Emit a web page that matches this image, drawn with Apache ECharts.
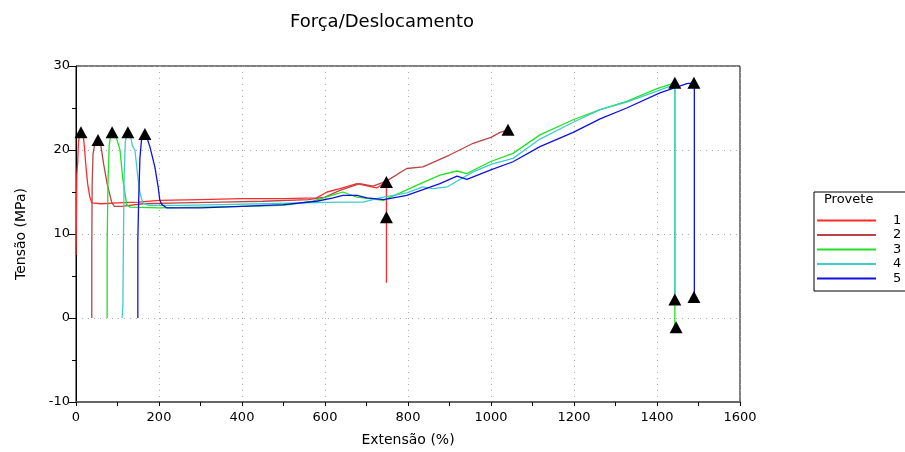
<!DOCTYPE html>
<html>

<head>
  <meta charset="utf-8">
  <title>Força/Deslocamento</title>
  <style>
    body {
      margin: 0;
      background: #fff;
    }

    #chart {
      width: 905px;
      height: 452px;
    }
  </style>
  <script src="https://cdn.jsdelivr.net/npm/echarts@6/dist/echarts.min.js"></script>
</head>

<body>
  <div id="chart"></div>

  <script>
    // provetes (legend names)
    var provetes = ['1', '2', '3', '4', '5'];

    // [extensão %, tensão MPa]
    var provete1 = [[0, 7.5], [1, 12], [2, 17], [4, 18.5], [6, 21], [10, 22], [17, 22], [20, 20.5], [24, 18], [28, 16],
      [33, 14.5], [38, 13.7], [60, 13.6], [100, 13.7], [150, 13.8], [200, 14], [300, 14.1], [400, 14.2],
      [500, 14.2], [580, 14.3], [605, 15], [636, 15.4], [677, 16], [704, 15.7], [725, 15.5], [748, 16.2], [748, 4.2]];
    var provete2 = [[38, 0], [38, 8], [39, 16], [41, 19.5], [46, 21], [53, 21.4], [60, 20.5], [66, 18.5], [75, 16],
      [86, 13.8], [92, 13.3], [110, 13.3], [161, 13.6], [250, 13.7], [350, 13.8], [450, 13.9], [560, 14.1],
      [600, 14.4], [636, 15.2], [684, 16], [716, 15.7], [748, 16.3], [797, 17.8], [836, 18], [900, 19.4],
      [957, 20.8], [1000, 21.5], [1022, 22.1], [1041, 22.4]];
    var provete3 = [[75, 0], [75, 8.5], [77, 16], [80, 20.5], [84, 22], [90, 22.1], [97, 21.5], [106, 20],
      [113, 16.4], [118, 14.9], [122, 13.5], [130, 13.2], [200, 13.1], [300, 13.2], [400, 13.3], [500, 13.4],
      [571, 13.9], [610, 14.5], [643, 15], [677, 14.4], [740, 14], [781, 14.9], [830, 16], [877, 17],
      [918, 17.5], [942, 17.2], [998, 18.6], [1053, 19.6], [1118, 21.8], [1198, 23.6], [1263, 24.8],
      [1327, 25.8], [1400, 27.3], [1443, 28], [1443, -1.1]];
    var provete4 = [[111, 0], [113, 1.5], [114, 8], [116, 17], [119, 21], [123, 22.1], [130, 22], [136, 20.5],
      [142, 20], [149, 16.8], [154, 14.9], [161, 13.7], [175, 13.4], [250, 13.4], [350, 13.5], [450, 13.6],
      [550, 13.7], [636, 13.8], [692, 13.8], [732, 14.3], [797, 14.9], [836, 15.6], [860, 15.4], [894, 15.6],
      [957, 17.4], [1000, 18.3], [1053, 19], [1118, 21.3], [1198, 23.3], [1263, 24.8], [1327, 25.7],
      [1400, 27], [1443, 27.8], [1443, 2.1]];
    var provete5 = [[149, 0], [149, 9.3], [151, 14], [154, 19], [158, 21.3], [163, 22], [170, 21.6], [178, 20.4],
      [190, 18], [198, 15.6], [202, 14], [207, 13.5], [219, 13.1], [300, 13.1], [400, 13.3], [500, 13.5],
      [580, 13.9], [620, 14.3], [643, 14.6], [677, 14.6], [701, 14.3], [742, 14.1], [797, 14.6], [877, 16],
      [918, 16.9], [942, 16.5], [998, 17.6], [1053, 18.6], [1118, 20.4], [1198, 22.1], [1263, 23.7],
      [1327, 25], [1407, 26.8], [1472, 27.9], [1490, 28], [1490, 2.4]];

    // black triangle markers (peaks and breaks)
    var marcas = [[12, 22.1], [53, 21.2], [87, 22.1], [125, 22.1], [166, 21.9], [748, 16.2], [748, 12.0],
      [1041, 22.4], [1443, 28.0], [1443, 2.2], [1446, -1.1], [1489, 28.0], [1489, 2.5]];

    var cores = ['#ff2a2a', '#b84545', '#22e022', '#40cccc', '#1010e0'];
    var dados = [provete1, provete2, provete3, provete4, provete5];

    var fonte = "'DejaVu Sans', sans-serif";

    var series = provetes.map(function (nome, i) {
      return {
        name: nome,
        type: 'line',
        data: dados[i],
        showSymbol: false,
        symbol: 'none',
        lineStyle: { color: cores[i], width: 1.3 },
        itemStyle: { color: cores[i] },
        z: 2
      };
    });
    series.push({
      name: 'marcas',
      type: 'scatter',
      data: marcas,
      symbol: 'triangle',
      symbolSize: [13, 12],
      itemStyle: { color: '#000', opacity: 1 },
      z: 5
    });

    var myChart = echarts.init(document.getElementById('chart'));

    var option = {
      animation: false,
      backgroundColor: '#fff',
      title: [{
        text: 'Força/Deslocamento',
        left: 377,
        top: 8,
        textAlign: 'center',
        textStyle: { fontFamily: fonte, fontSize: 18, fontWeight: 'normal', color: '#000' }
      }, {
        text: 'Provete',
        left: 824,
        top: 193,
        padding: 0,
        textStyle: { fontFamily: fonte, fontSize: 13, fontWeight: 'normal', color: '#000' }
      }],
      legend: {
        data: provetes,
        orient: 'vertical',
        left: 814,
        top: 192,
        padding: [22, 30, 6, 3],
        borderColor: '#000',
        borderWidth: 1,
        itemWidth: 59,
        itemHeight: 2,
        itemGap: 1.5,
        icon: 'rect',
        textStyle: { fontFamily: fonte, fontSize: 13, color: '#000', padding: [0, 0, 0, 12] }
      },
      grid: {
        left: 76,
        right: 165,
        top: 66,
        bottom: 50,
        show: true,
        borderColor: '#000',
        borderWidth: 1
      },
      xAxis: {
        type: 'value',
        min: 0,
        max: 1600,
        interval: 200,
        name: 'Extensão (%)',
        nameLocation: 'middle',
        nameGap: 31,
        nameTextStyle: { fontFamily: fonte, fontSize: 14, color: '#000' },
        axisLine: { onZero: false, lineStyle: { color: '#666', width: 2 } },
        axisTick: { length: 4, lineStyle: { color: '#000' } },
        minorTick: { show: true, splitNumber: 2, length: 4, lineStyle: { color: '#000' } },
        axisLabel: {
          fontFamily: fonte, fontSize: 13, color: '#000', margin: 9,
          formatter: function (v) { return String(v); }
        },
        splitLine: {
          show: true,
          lineStyle: { color: '#aaa', type: [1, 5], width: 1 }
        }
      },
      yAxis: {
        type: 'value',
        min: -10,
        max: 30,
        interval: 10,
        name: 'Tensão (MPa)',
        nameLocation: 'middle',
        nameGap: 48,
        nameTextStyle: { fontFamily: fonte, fontSize: 14, color: '#000' },
        axisLine: { show: true, onZero: false, lineStyle: { color: '#000' } },
        axisTick: { show: true, length: 7, lineStyle: { color: '#000' } },
        minorTick: { show: true, splitNumber: 2, length: 4, lineStyle: { color: '#000' } },
        axisLabel: { fontFamily: fonte, fontSize: 13, color: '#000', margin: 6 },
        splitLine: {
          show: true,
          lineStyle: { color: '#aaa', type: [1, 5], width: 1 }
        }
      },
      series: series
    };

    myChart.setOption(option);
  </script>
</body>

</html>
